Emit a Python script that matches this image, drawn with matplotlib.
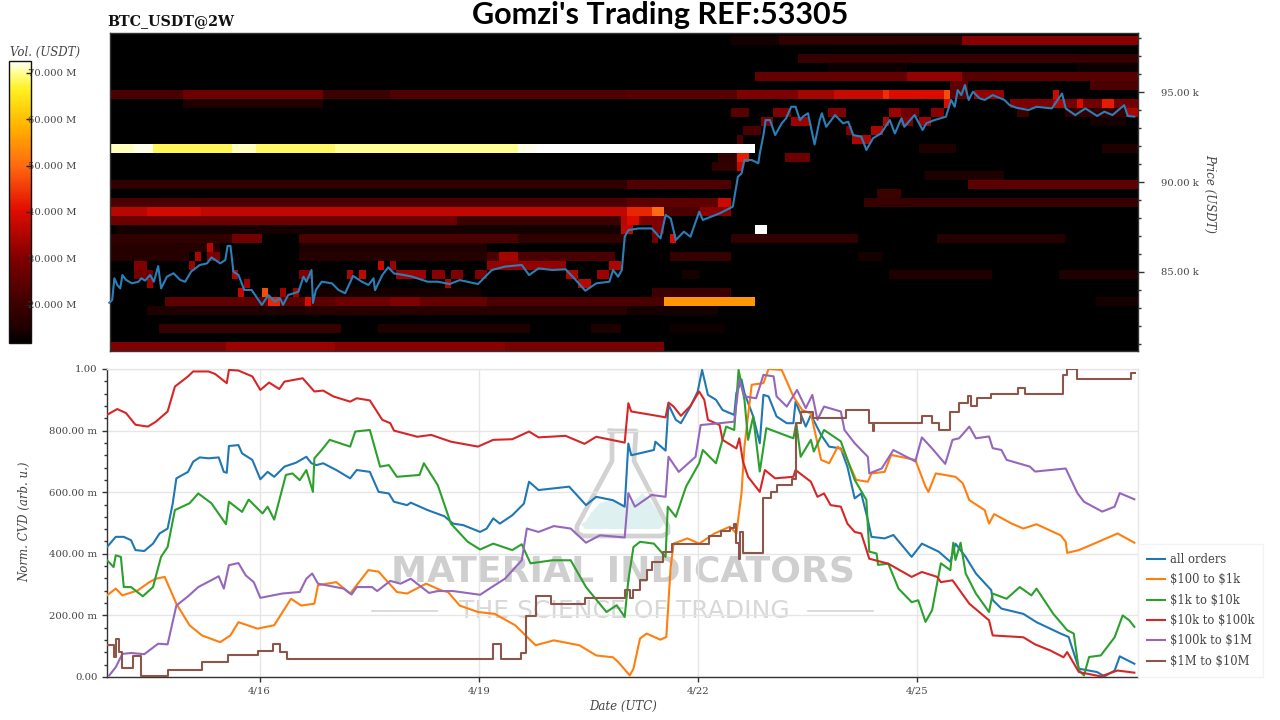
import numpy as np
import matplotlib
matplotlib.use("Agg")
import matplotlib.pyplot as plt
from matplotlib.colors import LinearSegmentedColormap
from matplotlib.ticker import FixedLocator, MultipleLocator

# ---------- price line (day of April, price in k USDT)
price_days = [13.94,13.98,14.01,14.05,14.09,14.12,14.17,14.25,14.34,14.38,14.43,14.50,14.55,14.61,14.65,14.73,14.82,14.91,14.98,15.06,15.18,15.28,15.34,15.46,15.53,15.56,15.60,15.64,15.71,15.79,15.89,16.03,16.12,16.21,16.28,16.32,16.39,16.53,16.60,16.64,16.71,16.73,16.77,16.85,16.99,17.08,17.17,17.28,17.40,17.49,17.56,
 17.58,17.68,17.76,17.84,17.98,18.09,18.30,18.44,18.60,18.74,18.99,19.18,19.36,19.59,19.69,19.82,20.01,20.19,20.33,20.46,20.61,20.79,20.84,20.91,20.96,21.0,21.05,21.19,21.37,21.49,21.56,21.63,21.70,21.81,21.90,22.02,22.07,22.30,22.48,22.55,22.60,22.64,22.74,22.83,
 22.85,22.90,22.93,22.99,23.06,23.15,23.21,23.28,23.34,23.40,23.44,23.51,23.60,23.67,23.70,23.76,23.88,23.99,24.06,24.13,24.24,24.31,24.40,24.51,24.63,24.70,24.79,24.83,24.97,25.08,25.13,25.24,25.40,25.47,25.52,25.56,25.61,25.66,25.71,25.77,25.86,25.93,26.04,26.20,26.27,26.36,
 26.53,26.64,26.85,26.99,27.04,27.17,27.31,27.47,27.57,27.68,27.84,27.89,27.98]
price_vals = [83.29,83.44,84.65,84.28,84.09,84.83,84.56,84.37,84.46,84.65,84.52,84.83,84.46,85.33,84.09,84.74,84.93,84.56,84.46,85.02,85.39,85.48,85.81,85.48,85.67,86.45,86.45,85.02,84.83,84.0,84.0,83.17,83.72,83.35,83.54,83.17,83.72,83.9,84.74,84.46,85.11,83.28,84.0,84.46,84.37,84.0,83.82,84.78,84.46,84.28,84.65,
 83.99,84.83,85.26,84.92,84.83,84.74,84.46,84.46,84.33,84.55,84.33,85.11,85.3,85.39,84.83,85.2,85.11,85.15,84.55,83.96,84.37,84.46,85.11,84.74,85.11,86.96,87.33,87.42,87.42,86.87,88.17,87.98,86.78,87.24,86.96,88.35,87.89,88.26,88.63,90.29,90.48,91.22,91.22,91.04,
 91.59,92.61,93.44,93.44,92.61,93.26,93.54,94.18,94.18,93.44,93.63,93.82,92.09,93.44,93.82,93.07,93.72,93.26,93.35,92.61,92.52,91.78,92.43,92.7,93.44,92.7,93.54,93.07,93.72,92.89,93.26,93.44,93.63,94.56,94.18,95.11,94.83,95.39,94.56,95.02,94.65,94.56,94.83,94.56,94.28,94.13,
 94.0,94.18,94.09,94.92,94.09,93.72,94.09,93.67,93.91,93.72,94.27,93.67,93.63]

# ---------- heat map: (price bin lower edge, from day, to day, volume in M USDT)
bands = [
 (97600,22.48,23.13,14),(97600,23.13,25.58,18),(97600,25.58,28.05,31),
 (96600,23.34,28.05,19),(96100,23.82,24.85,13),(96100,27.2,28.05,13),
 (95600,22.76,24.9,26),(95600,24.9,25.58,32),(95600,25.58,28.05,24),
 (95100,25.48,25.72,25),(95100,27.4,28.05,22),
 (94600,13.95,14.97,22),(94600,14.97,16.9,27),(94600,16.9,17.8,20),(94600,17.8,21.0,23),(94600,21.0,22.5,24),(94600,22.5,23.4,30),(94600,23.4,23.9,34),(94600,23.9,24.5,38),(94600,24.5,24.6,44),(94600,24.6,25.33,40),(94600,25.33,25.42,47),(94600,25.46,25.72,25),(94600,25.8,26.2,32),(94600,26.85,26.92,38),
 (94100,14.97,16.9,15),(94100,25.33,25.46,40),(94100,26.25,26.87,30),(94100,26.87,27.0,35),(94100,27.0,28.05,28),(94100,27.17,27.27,40),(94100,27.57,27.67,42),
 (93600,22.42,22.74,24),(93600,23.07,23.3,30),(93600,23.82,24.0,30),(93600,24.65,24.75,33),(93600,24.75,25.07,27),(93600,25.17,25.35,31),(93600,26.4,26.5,20),(93600,27.0,28.05,18),(93600,27.89,28.0,35),
 (93100,22.85,23.07,30),(93100,23.3,23.5,33),(93100,24.5,24.6,35),(93100,24.75,24.98,30),(93100,25.0,25.17,33),(93100,27.38,27.85,14),
 (92600,22.58,22.83,22),(92600,24.0,24.15,30),(92600,24.33,24.5,35),
 (92100,22.5,22.58,22),(92100,24.15,24.38,35),
 (91600,13.95,14.3,71),(91600,14.3,14.55,72),(91600,14.55,15.62,68),(91600,15.62,15.95,71),(91600,15.95,17.05,68.5),(91600,17.05,19.55,70),(91600,19.55,19.75,72),(91600,19.75,22.75,75),(91600,25.03,25.5,15),(91600,27.52,28.05,15),
 (91100,22.3,22.57,18),(91100,22.57,22.74,42),(91100,23.18,23.5,27),
 (90600,22.16,22.5,18),(90600,22.5,22.58,38),
 (90100,22.0,22.07,20),(90100,25.09,26.2,15),
 (89600,13.95,21.0,18),(89600,21.0,22.44,23),(89600,25.67,28.05,25),
 (89100,24.42,24.75,20),
 (88600,13.95,21.0,22),(88600,21.0,22.3,25),(88600,22.3,22.44,38),(88600,24.26,28.05,19),
 (88100,13.95,14.45,36),(88100,14.45,15.2,39),(88100,15.2,21.0,37),(88100,21.0,21.35,43),(88100,21.35,21.5,50),(88100,21.5,22.02,22),(88100,22.02,22.48,31),
 (87600,13.95,18.7,27),(87600,18.7,20.95,20),(87600,20.95,21.07,36),(87600,21.07,21.16,40),(87600,21.16,21.5,30),(87600,21.84,21.9,32),
 (87100,14.0,20.91,14),(87100,20.91,21.09,37),(87100,21.37,21.5,30),(87100,22.75,22.92,75),
 (86600,13.95,15.62,18),(86600,15.62,16.03,28),(86600,16.55,19.5,22),(86600,19.5,21.0,18),(86600,21.35,21.42,28),(86600,21.58,21.67,40),(86600,22.43,24.24,18),(86600,25.26,27.06,16),
 (86100,13.95,15.45,16),(86100,15.27,15.37,36),(86100,16.55,19.1,15),
 (85600,13.95,15.05,16),(85600,15.11,15.2,35),(85600,15.27,15.43,30),(85600,16.55,19.13,16),(85600,19.13,20.9,22),(85600,19.3,19.5,34),(85600,21.6,22.41,19),(85600,24.18,24.52,14),
 (85100,14.28,14.47,30),(85100,15.02,15.11,33),(85100,17.6,17.68,38),(85100,17.77,17.86,33),(85100,19.13,20.19,32),(85100,20.8,20.95,35),
 (84600,14.28,14.56,28),(84600,15.6,15.67,35),(84600,16.55,16.68,30),(84600,17.22,17.31,35),(84600,17.38,17.47,37),(84600,17.89,18.25,33),(84600,18.35,18.53,31),(84600,18.62,18.8,30),(84600,18.94,19.13,30),(84600,20.22,20.33,35),(84600,20.61,20.8,33),(84600,21.77,22.07,14),(84600,24.58,26.0,15),(84600,26.92,28.05,15),
 (84100,14.47,14.56,33),(84100,15.67,15.74,36),(84100,15.78,15.87,33),(84100,18.5,18.62,35),(84100,20.38,20.56,36),
 (83600,16.78,19.0,14),(83600,15.69,15.78,37),(83600,16.03,16.12,47),(83600,16.29,16.36,33),(83600,16.47,16.55,33),(83600,21.4,22.48,20),
 (83100,14.7,17.05,25),(83100,17.05,17.75,27),(83100,17.75,18.2,30),(83100,18.2,19.13,26),(83100,19.13,21.5,22),(83100,16.12,16.29,43),(83100,16.62,16.71,40),(83100,21.5,22.75,55),(83100,27.43,28.05,14),
 (82600,14.47,16.59,15),(82600,16.59,21.0,17),(82600,21.0,22.3,14),
 (81600,14.6,17.1,19),(81600,17.6,19.7,15),(81600,20.5,20.93,15),(81600,21.6,22.4,13),
 (80600,13.95,15.5,30),(80600,15.5,17.05,33),(80600,17.05,19.35,31),(80600,19.35,21.5,29),
]

# ---------- normalised CVD series (day of April, value)
all_days = [13.91,14.03,14.14,14.24,14.30,14.42,14.54,14.63,14.74,14.81,14.86,15.02,15.09,15.18,15.30,15.44,15.51,15.55,15.58,15.71,15.76,15.90,16.01,16.11,16.20,16.34,16.50,16.64,16.71,16.78,16.87,17.05,17.24,17.33,17.51,17.63,17.77,17.84,18.02,18.07,18.30,18.53,18.65,18.79,19.02,19.11,19.20,19.29,19.46,19.62,19.69,19.82,20.01,20.24,20.47,20.61,20.84,21.00,21.05,21.09,21.40,21.42,21.56,21.60,21.70,21.77,21.90,22.00,22.06,22.14,22.25,22.34,22.50,22.53,22.60,22.64,22.76,22.85,22.90,22.97,23.08,23.22,23.31,23.34,23.48,23.55,23.69,23.80,23.96,24.05,24.15,24.24,24.33,24.38,24.56,24.68,24.93,25.07,25.30,25.46,25.53,25.67,25.81,26.02,26.04,26.16,26.46,26.64,26.97,27.08,27.22,27.47,27.57,27.71,27.78,27.98]
all_vals = [.422,.455,.455,.444,.412,.409,.433,.466,.482,.563,.645,.666,.699,.713,.710,.713,.666,.663,.750,.753,.726,.705,.642,.666,.650,.683,.696,.715,.694,.688,.694,.672,.645,.672,.666,.601,.596,.569,.558,.566,.542,.522,.498,.493,.471,.482,.515,.498,.525,.563,.634,.607,.612,.618,.558,.585,.574,.553,.758,.720,.737,.764,.735,.884,.835,.824,.878,.927,.997,.916,.900,.867,.851,.922,.966,.922,.846,.759,.916,.911,.846,.824,.824,.894,.813,.851,.786,.748,.742,.683,.580,.596,.510,.455,.450,.461,.390,.433,.407,.374,.433,.390,.336,.282,.250,.222,.205,.178,.141,.130,.027,.016,.002,.021,.067,.043]

o100_days = [13.91,14.03,14.12,14.33,14.49,14.58,14.70,14.86,15.04,15.21,15.46,15.60,15.71,15.97,16.20,16.43,16.57,16.75,16.80,17.05,17.24,17.49,17.63,17.88,18.02,18.28,18.49,18.58,18.74,18.99,19.22,19.50,19.78,20.03,20.38,20.61,20.84,20.91,21.07,21.12,21.21,21.30,21.49,21.57,21.63,21.67,21.86,22.02,22.23,22.44,22.53,22.60,22.64,22.74,22.90,22.97,23.15,23.31,23.43,23.55,23.69,23.80,23.92,24.01,24.17,24.33,24.38,24.56,24.65,24.98,25.12,25.16,25.26,25.53,25.63,25.72,25.93,25.99,26.06,26.30,26.46,26.64,26.97,27.04,27.06,27.22,27.43,27.75,27.98]
o100_vals = [.265,.287,.265,.281,.308,.319,.325,.238,.168,.135,.113,.135,.178,.157,.168,.254,.232,.238,.298,.308,.271,.347,.342,.276,.271,.303,.281,.276,.232,.211,.205,.168,.103,.119,.103,.070,.064,.049,.005,.027,.125,.141,.121,.130,.358,.433,.450,.433,.466,.488,.466,.597,.748,.949,.954,1.0,.997,.911,.867,.856,.705,.694,.748,.726,.640,.634,.661,.666,.721,.705,.618,.601,.661,.650,.629,.574,.542,.498,.529,.498,.482,.496,.460,.439,.403,.412,.433,.466,.436]

o1k_days = [13.91,14.0,14.03,14.10,14.14,14.24,14.40,14.54,14.65,14.74,14.84,15.04,15.16,15.34,15.54,15.58,15.76,15.85,16.04,16.11,16.20,16.36,16.45,16.55,16.64,16.73,16.75,16.85,16.96,17.10,17.24,17.31,17.51,17.65,17.77,17.88,18.19,18.25,18.44,18.62,18.85,19.02,19.20,19.46,19.59,19.71,20.01,20.26,20.47,20.75,20.89,21.00,21.05,21.12,21.21,21.40,21.56,21.59,21.70,21.84,22.02,22.07,22.25,22.39,22.50,22.56,22.64,22.69,22.76,22.85,22.94,23.13,23.31,23.35,23.41,23.55,23.59,23.73,23.96,24.15,24.31,24.35,24.45,24.47,24.61,24.75,24.93,25.02,25.12,25.21,25.33,25.46,25.50,25.53,25.60,25.67,25.81,25.99,26.04,26.23,26.41,26.57,26.64,26.87,27.06,27.15,27.22,27.29,27.36,27.52,27.71,27.82,27.91,27.98]
o1k_vals = [.379,.357,.395,.390,.292,.292,.262,.292,.390,.422,.542,.564,.596,.564,.496,.569,.536,.576,.531,.553,.511,.656,.661,.639,.672,.601,.710,.737,.770,.759,.748,.797,.802,.683,.688,.650,.656,.694,.623,.498,.439,.414,.433,.412,.431,.369,.379,.379,.292,.211,.233,.195,.314,.422,.439,.433,.390,.553,.520,.618,.694,.737,.694,.813,.802,.997,.900,.770,.846,.667,.808,.791,.775,.824,.715,.770,.732,.802,.765,.640,.575,.407,.401,.364,.368,.287,.243,.249,.179,.217,.369,.347,.436,.380,.436,.336,.271,.211,.271,.254,.292,.265,.287,.205,.152,.141,.022,.005,.065,.070,.129,.200,.184,.163]

o10k_days = [13.91,14.05,14.17,14.30,14.47,14.58,14.74,14.84,15.02,15.09,15.30,15.39,15.55,15.58,15.71,15.90,16.01,16.13,16.27,16.34,16.59,16.75,16.87,17.01,17.24,17.33,17.51,17.68,17.79,17.84,18.16,18.35,18.62,18.99,19.20,19.46,19.69,19.82,20.19,20.45,20.61,21.00,21.05,21.09,21.37,21.56,21.60,21.67,21.77,21.90,22.02,22.09,22.14,22.30,22.34,22.53,22.57,22.62,22.69,22.85,22.92,23.06,23.31,23.34,23.55,23.64,23.73,23.82,23.96,24.05,24.15,24.24,24.35,24.61,24.93,25.07,25.28,25.33,25.49,25.72,25.99,26.04,26.46,26.62,26.83,27.01,27.06,27.22,27.52,27.75,27.98]
o10k_vals = [.851,.870,.857,.819,.813,.829,.862,.943,.976,.992,.992,.984,.954,.997,.995,.976,.932,.956,.935,.959,.970,.927,.930,.911,.894,.905,.898,.835,.824,.800,.780,.786,.764,.748,.770,.772,.797,.778,.783,.757,.780,.761,.889,.862,.851,.843,.891,.878,.848,.880,.927,.900,.835,.818,.770,.742,.775,.699,.650,.601,.672,.645,.650,.672,.634,.585,.596,.558,.553,.498,.471,.466,.384,.368,.325,.341,.325,.308,.314,.238,.184,.135,.129,.106,.086,.064,.081,.016,.002,.021,.014]

o100k_days = [13.94,14.03,14.12,14.24,14.42,14.61,14.74,14.86,15.02,15.16,15.44,15.51,15.58,15.71,15.81,15.92,16.01,16.31,16.55,16.64,16.72,16.80,17.15,17.26,17.33,17.54,17.61,17.79,17.93,18.07,18.32,18.44,18.65,19.02,19.18,19.36,19.59,19.66,19.82,20.03,20.26,20.47,20.66,21.00,21.05,21.14,21.37,21.56,21.60,21.74,21.97,22.04,22.30,22.50,22.57,22.64,22.80,22.90,23.04,23.08,23.22,23.36,23.48,23.57,23.64,23.73,23.96,24.01,24.15,24.33,24.35,24.52,24.68,24.98,25.07,25.21,25.39,25.49,25.58,25.72,25.81,25.99,26.04,26.16,26.23,26.55,26.62,27.04,27.20,27.29,27.54,27.71,27.78,27.98]
o100k_vals = [.005,.032,.075,.078,.074,.108,.106,.232,.262,.292,.327,.287,.363,.370,.330,.308,.257,.271,.276,.319,.336,.303,.287,.268,.292,.292,.279,.312,.303,.319,.273,.279,.279,.267,.292,.319,.379,.482,.471,.490,.482,.436,.460,.453,.597,.553,.591,.585,.715,.666,.715,.818,.824,.829,.965,.911,.905,.981,.976,.911,.878,.932,.873,.916,.835,.878,.862,.802,.759,.715,.661,.677,.737,.700,.778,.742,.692,.770,.775,.813,.775,.781,.743,.737,.705,.683,.667,.677,.597,.569,.537,.553,.597,.577]

# step line: each value holds from its day to the next day
o1m_days = [13.91,14.01,14.03,14.07,14.12,14.26,14.37,14.74,15.21,15.57,15.98,16.18,16.28,16.37,19.19,19.30,19.58,19.65,19.79,19.99,20.45,21.00,21.07,21.12,21.21,21.30,21.37,21.53,21.65,22.16,22.32,22.44,22.50,22.53,22.56,22.58,22.62,22.90,23.01,23.08,23.29,23.34,23.41,23.58,24.03,24.35,24.40,24.42,25.07,25.21,25.30,25.46,25.58,25.70,25.74,25.83,26.02,26.38,26.48,27.00,27.06,27.20,27.93,27.99]
o1m_vals = [.103,.064,.124,.080,.030,.067,.002,.022,.049,.071,.084,.106,.081,.060,.108,.060,.078,.198,.263,.236,.257,.282,.258,.282,.315,.347,.375,.407,.431,.458,.475,.483,.496,.434,.382,.470,.401,.580,.601,.623,.644,.824,.862,.840,.867,.824,.800,.824,.846,.824,.802,.862,.889,.911,.880,.905,.919,.938,.919,.979,1.0,.967,.987,.987]

legend_names = ["all orders", r"\$100 to \$1k", r"\$1k to \$10k", r"\$10k to \$100k", r"\$100k to \$1M", r"\$1M to \$10M"]
line_colors = ["#1f77b4", "#ff7f0e", "#2ca02c", "#d62728", "#9467bd", "#8c564b"]
date_ticks = [16, 19, 22, 25]
date_labels = ["4/16", "4/19", "4/22", "4/25"]
cvd_ticks = [0, .2, .4, .6, .8, 1.0]
cvd_labels = ["0.00", "200.00 m", "400.00 m", "600.00 m", "800.00 m", "1.00"]
price_ticks = [85, 90, 95]
price_labels = ["85.00 k", "90.00 k", "95.00 k"]
vol_ticks = [20, 30, 40, 50, 60, 70]
vol_labels = ["20.000 M", "30.000 M", "40.000 M", "50.000 M", "60.000 M", "70.000 M"]

# ---------- figure
W, H = 1280, 720
plt.rcParams["font.family"] = ["DejaVu Serif"]
TXT = "#444444"
fig = plt.figure(figsize=(W/100, H/100), dpi=100)

def box(x0, y0, x1, y1):
    return [x0/W, 1-y1/H, (x1-x0)/W, (y1-y0)/H]

# background layer for the watermark
bg = fig.add_axes([0, 0, 1, 1], zorder=0)
bg.set_xlim(0, W); bg.set_ylim(H, 0); bg.axis("off")
bg.fill([585,592,600,612,625,638,642,650,660,664,660,585,581],
        [522,512,503,500,505,498,493,500,515,524,529,529,524], color="#dff0f0", lw=0)
bg.plot([610,636,636,634,668,668,662,583,577,577,612,612,610],
        [431,431,431,461,526,533,536,536,533,526,461,431,431], color="#d2d2d2", lw=3.4, solid_joinstyle="round")
bg.text(623, 571, "MATERIAL INDICATORS", ha="center", va="center", family="DejaVu Sans", weight="bold", fontsize=26, color="#cfcfcf")
bg.text(624, 611, "THE SCIENCE OF TRADING", ha="center", va="center", family="DejaVu Sans", fontsize=18, color="#d8d8d8")
bg.plot([372, 437], [611, 611], color="#d4d4d4", lw=1.2)
bg.plot([808, 873], [611, 611], color="#d4d4d4", lw=1.2)

# heat map
x0d, x1d = 13.95, 28.03
col_edges = np.arange(x0d, x1d + 1/24, 1/12)
row_edges = np.arange(80600, 98700, 500)
grid = np.zeros((len(row_edges)-1, len(col_edges)-1))
centers = (col_edges[:-1] + col_edges[1:]) / 2
for low, a, b, val in bands:
    r = int((low - 80600) // 500)
    grid[r, (centers >= a) & (centers < b)] = val

cmap = LinearSegmentedColormap.from_list("vol", [
    (0.0, "#000000"), (0.05, "#1e0000"), (0.135, "#3c0000"), (0.30, "#800000"), (0.47, "#e00c00"), (0.63, "#ff6a10"),
    (0.77, "#ffb400"), (0.90, "#fff020"), (0.96, "#ffff90"), (1.0, "#ffffff")])

ax = fig.add_axes(box(110, 33, 1138, 351), zorder=1)
ax.set_facecolor("black")
mesh = ax.pcolormesh(col_edges, row_edges/1000, grid, cmap=cmap, vmin=11.8, vmax=72.5, shading="flat")
ax.set_xlim(x0d, x1d)
ax.set_ylim(80.61, 98.28)
ax.plot(price_days, price_vals, color="#2b7fb8", lw=1.5, clip_on=False, zorder=3)
ax.xaxis.set_visible(False)
ax.yaxis.tick_right()
ax.yaxis.set_major_locator(FixedLocator(price_ticks))
ax.yaxis.set_minor_locator(MultipleLocator(1))
ax.set_yticklabels(price_labels)
ax.tick_params(axis="y", which="major", length=4.3, width=1, color="#333333", labelsize=7.2, labelcolor=TXT, pad=12.5)
ax.tick_params(axis="y", which="minor", length=2.5, width=1, color="#333333")
for s in ax.spines.values():
    s.set_color("#333333"); s.set_linewidth(1)
fig.text(1210/W, 1-193/H, "Price (USDT)", rotation=-90, style="italic", ha="center", va="center", fontsize=8.5, color=TXT)

# colour bar
cax = fig.add_axes(box(9, 61, 31, 343), zorder=2)
cb = fig.colorbar(mesh, cax=cax)
cb.set_ticks(vol_ticks)
cb.set_ticklabels(vol_labels)
cb.minorticks_off()
cb.outline.set_edgecolor("#111111"); cb.outline.set_linewidth(1)
cax.tick_params(axis="y", direction="in", length=3.5, width=1, color="#222222", labelsize=7.2, labelcolor=TXT, pad=-2)
cax.set_zorder(3)
for t in cax.get_yticklabels():
    t.set_clip_on(False)
fig.text(10/W, 1-52/H, "Vol. (USDT)", style="italic", ha="left", va="center", fontsize=8.5, color=TXT)

# titles
fig.text(107/W, 1-21/H, "BTC_USDT@2W", weight="bold", ha="left", va="center", fontsize=10.3, color="#111111")
fig.text(660/W, 1-15/H, "Gomzi's Trading REF:53305", family="Lato", weight="bold", ha="center", va="center", fontsize=22, color="#000000")

# CVD panel
ax2 = fig.add_axes(box(107, 369, 1138, 677), zorder=1)
ax2.patch.set_alpha(0)
series = [(all_days, all_vals), (o100_days, o100_vals), (o1k_days, o1k_vals), (o10k_days, o10k_vals), (o100k_days, o100k_vals)]
for (d, v), c, n in zip(series, line_colors, legend_names):
    ax2.plot(d, v, color=c, lw=1.5, label=n, zorder=3)
ax2.plot(o1m_days, o1m_vals, color=line_colors[5], lw=1.5, drawstyle="steps-post", label=legend_names[5], zorder=3)
ax2.set_xlim(13.91, 28.03)
ax2.set_ylim(0, 1)
ax2.set_xticks(date_ticks); ax2.set_xticklabels(date_labels)
ax2.set_yticks(cvd_ticks); ax2.set_yticklabels(cvd_labels)
ax2.yaxis.set_minor_locator(MultipleLocator(0.04))
ax2.grid(True, color="#e6e6e6", lw=1)
ax2.set_axisbelow(True)
ax2.tick_params(axis="both", which="major", length=3.8, width=1, color="#333333", labelsize=7.3, labelcolor=TXT, pad=3)
ax2.tick_params(axis="y", which="minor", length=2, width=1, color="#333333")
for name, s in ax2.spines.items():
    if name in ("left", "bottom"):
        s.set_color("#333333")
    else:
        s.set_color("#e6e6e6")
    s.set_linewidth(1)
fig.text(623/W, 1-706/H, "Date (UTC)", style="italic", ha="center", va="center", fontsize=8.5, color=TXT)
fig.text(25/W, 1-522/H, "Norm. CVD (arb. u.)", rotation=90, style="italic", ha="center", va="center", fontsize=8.5, color=TXT)

leg = fig.legend(*ax2.get_legend_handles_labels(), loc="lower left", bbox_to_anchor=(1138/W, 1-677/H),
                 frameon=True, fontsize=8.3, labelcolor=TXT, handlelength=1.55, handletextpad=0.4,
                 labelspacing=0.64, borderaxespad=0, borderpad=0.8, fancybox=False)
leg.get_frame().set_edgecolor("#f0f0f0"); leg.get_frame().set_linewidth(1)
leg.set_zorder(5)

fig.savefig("out.png", dpi=100)
